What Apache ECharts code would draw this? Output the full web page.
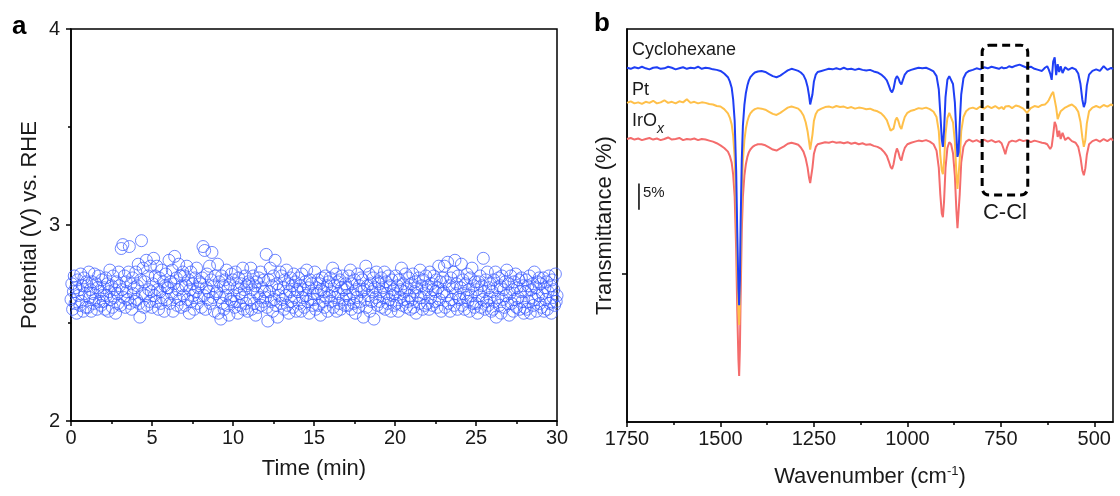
<!DOCTYPE html>
<html><head><meta charset="utf-8">
<script src="https://cdn.jsdelivr.net/npm/echarts@6/dist/echarts.min.js"></script>
<style>html,body{margin:0;padding:0;background:#fff}#c{width:1120px;height:496px}</style>
</head><body><div id="c"></div>
<script>
// ---------- Panel a: potential vs time (one sample every 0.05 min) ----------
const sampleStepMin = 0.05;
const potential = [
 2.62,2.70,2.57,2.66,2.74,2.60,2.68,2.55,2.72,2.64,2.67,2.59,2.75,2.61,2.69,2.56,2.73,2.65,2.58,2.71,
 2.69,2.58,2.76,2.63,2.67,2.56,2.71,2.65,2.60,2.75,2.62,2.70,2.57,2.68,2.74,2.61,2.66,2.59,2.72,2.64,
 2.61,2.68,2.57,2.73,2.64,2.70,2.56,2.66,2.77,2.62,2.69,2.58,2.74,2.63,2.67,2.55,2.71,2.65,2.60,2.76,
 2.69,2.59,2.88,2.67,2.90,2.63,2.74,2.58,2.71,2.66,2.62,2.76,2.89,2.60,2.70,2.57,2.73,2.65,2.68,2.61,
 2.76,2.62,2.69,2.80,2.60,2.53,2.72,2.92,2.65,2.78,2.58,2.71,2.64,2.82,2.59,2.74,2.67,2.61,2.79,2.66,
 2.58,2.70,2.83,2.64,2.74,2.61,2.79,2.67,2.57,2.73,2.66,2.60,2.77,2.63,2.71,2.56,2.69,2.75,2.62,2.68,
 2.68,2.82,2.60,2.71,2.65,2.77,2.56,2.70,2.84,2.63,2.73,2.59,2.67,2.80,2.62,2.74,2.58,2.69,2.76,2.64,
 2.74,2.59,2.69,2.79,2.62,2.72,2.55,2.67,2.76,2.61,2.70,2.64,2.57,2.73,2.66,2.78,2.60,2.68,2.63,2.71,
 2.70,2.58,2.73,2.89,2.64,2.87,2.57,2.68,2.75,2.62,2.66,2.79,2.60,2.72,2.86,2.63,2.69,2.56,2.74,2.65,
 2.66,2.80,2.55,2.71,2.63,2.52,2.74,2.60,2.69,2.57,2.72,2.64,2.77,2.59,2.68,2.54,2.70,2.62,2.75,2.61,
 2.72,2.64,2.58,2.76,2.61,2.68,2.55,2.73,2.65,2.59,2.70,2.63,2.78,2.57,2.67,2.74,2.60,2.69,2.56,2.71,
 2.70,2.62,2.78,2.57,2.67,2.74,2.60,2.69,2.54,2.71,2.65,2.58,2.73,2.63,2.76,2.59,2.68,2.61,2.72,2.66,
 2.63,2.85,2.58,2.51,2.72,2.66,2.78,2.61,2.69,2.56,2.74,2.62,2.82,2.59,2.70,2.53,2.67,2.64,2.76,2.60,
 2.74,2.62,2.68,2.57,2.72,2.64,2.77,2.59,2.70,2.55,2.66,2.73,2.61,2.69,2.58,2.75,2.63,2.71,2.56,2.67,
 2.66,2.73,2.60,2.69,2.56,2.75,2.63,2.67,2.58,2.71,2.64,2.77,2.61,2.68,2.55,2.72,2.62,2.70,2.59,2.65,
 2.62,2.76,2.57,2.68,2.65,2.72,2.59,2.70,2.54,2.67,2.73,2.61,2.66,2.58,2.74,2.63,2.69,2.56,2.71,2.64,
 2.73,2.61,2.66,2.78,2.58,2.69,2.63,2.75,2.56,2.71,2.65,2.60,2.72,2.57,2.68,2.74,2.62,2.67,2.59,2.70,
 2.64,2.68,2.59,2.74,2.62,2.77,2.57,2.70,2.65,2.60,2.72,2.55,2.67,2.63,2.75,2.58,2.69,2.61,2.73,2.66,
 2.72,2.53,2.67,2.62,2.79,2.58,2.69,2.64,2.75,2.56,2.70,2.61,2.66,2.73,2.52,2.68,2.63,2.76,2.59,2.71,
 2.70,2.61,2.66,2.73,2.58,2.68,2.63,2.76,2.57,2.71,2.65,2.60,2.74,2.62,2.69,2.56,2.72,2.64,2.67,2.59,
 2.65,2.74,2.60,2.69,2.56,2.72,2.63,2.67,2.78,2.59,2.70,2.62,2.66,2.75,2.58,2.68,2.61,2.73,2.64,2.57,
 2.70,2.62,2.75,2.58,2.66,2.71,2.55,2.68,2.64,2.73,2.60,2.77,2.63,2.69,2.57,2.72,2.65,2.59,2.74,2.67,
 2.60,2.69,2.57,2.76,2.63,2.70,2.59,2.67,2.74,2.61,2.66,2.72,2.58,2.68,2.79,2.62,2.71,2.56,2.65,2.73,
 2.66,2.79,2.58,2.71,2.64,2.81,2.60,2.69,2.56,2.73,2.62,2.68,2.76,2.59,2.82,2.65,2.70,2.57,2.74,2.63,
 2.62,2.68,2.80,2.59,2.72,2.65,2.57,2.70,2.63,2.75,2.61,2.67,2.56,2.73,2.64,2.78,2.60,2.69,2.58,2.71,
 2.60,2.67,2.55,2.71,2.64,2.74,2.58,2.69,2.62,2.83,2.66,2.57,2.72,2.61,2.76,2.59,2.68,2.63,2.70,2.56,
 2.66,2.57,2.72,2.61,2.76,2.53,2.68,2.63,2.73,2.59,2.69,2.55,2.74,2.62,2.67,2.58,2.71,2.64,2.77,2.60,
 2.70,2.54,2.65,2.74,2.60,2.67,2.56,2.71,2.62,2.75,2.58,2.68,2.63,2.72,2.57,2.66,2.73,2.61,2.69,2.55,
 2.58,2.66,2.72,2.57,2.69,2.61,2.74,2.55,2.67,2.63,2.70,2.59,2.76,2.62,2.68,2.56,2.71,2.64,2.73,2.60,
 2.70,2.58,2.65,2.73,2.56,2.68,2.62,2.71,2.57,2.66,2.74,2.60,2.69,2.55,2.72,2.63,2.67,2.59,2.75,2.61,
 2.64
];
const timeTicks = [0,5,10,15,20,25,30];
const potentialTicks = [2,3,4];

// ---------- Panel b: FTIR spectra ----------
const wavenumbers = [
 1750,1740,1730,1720,1710,1700,1690,1680,1670,1660,1650,1640,1630,1620,1610,1600,1590,1580,1570,1560,1550,1540,1530,1520,1510,
 1500,1495,1490,1485,1480,1475,1470,1466,1462,1458,1455,1452,1450,1448,1446,1443,1440,1436,1432,1428,1424,1420,1414,1408,1400,
 1390,1380,1370,1360,1350,1345,1340,1330,1320,1310,1300,
 1292,1285,1278,1272,1267,1263,1260,1257,1254,1250,1245,1240,
 1230,1220,1210,1200,1190,1180,1170,1160,1150,1140,1130,1120,1110,1100,1090,1080,1070,1062,
 1055,1050,1045,1041,1037,1032,1028,1024,1020,1016,1012,1007,1000,990,
 980,970,960,950,940,930,922,916,912,908,905,902,898,893,888,883,878,873,869,866,863,860,856,850,843,835,
 825,815,805,795,785,775,765,755,748,742,738,734,728,720,710,700,690,680,670,660,650,640,
 632,626,622,618,614,610,606,602,598,594,590,585,578,570,560,
 550,543,537,532,528,524,520,514,505,495,485,475,465,455,450
];
const cyclohexane = [
 67.6,67.4,67.7,67.5,67.8,67.5,67.3,67.6,67.7,67.4,67.5,67.8,67.6,67.3,67.5,67.7,67.4,67.6,67.5,67.8,67.4,67.6,67.5,67.3,67.2,
 67.0,66.8,66.5,66.2,65.8,65.0,63.8,61.5,57.5,48.0,36.0,25.5,22.3,27.0,38.0,50.0,56.5,60.5,62.8,64.2,65.2,65.8,66.3,66.7,66.9,
 67.0,66.8,66.4,66.0,65.8,65.9,66.1,66.6,67.1,67.4,67.2,
 67.0,66.7,66.2,65.3,64.0,62.3,60.6,60.3,62.5,65.0,66.3,66.8,
 67.0,67.2,67.4,67.3,67.5,67.3,67.6,67.3,67.4,67.2,67.4,67.2,67.1,67.2,66.9,66.7,66.3,65.8,
 65.2,64.3,63.3,62.9,63.6,65.4,66.0,65.6,64.8,64.4,65.3,66.3,66.9,67.2,
 67.4,67.6,67.5,67.6,67.3,66.9,66.0,63.5,59.0,54.0,52.5,55.5,62.0,65.3,66.0,65.8,64.5,61.0,55.0,50.6,51.5,57.0,62.5,65.6,66.6,67.0,
 67.2,67.5,67.3,67.7,67.5,67.8,67.6,67.4,67.7,67.5,67.8,67.6,67.9,67.7,68.0,68.2,67.9,67.6,67.8,67.4,67.2,67.0,
 67.6,67.9,67.3,66.5,65.3,68.8,69.6,66.2,68.3,66.8,67.9,66.6,67.7,67.2,67.6,
 67.3,66.5,64.5,61.5,60.1,61.0,64.2,66.3,67.0,67.3,67.0,67.9,67.2,67.6,67.3
];
const pt = [
 60.9,61.2,60.8,61.0,60.7,61.1,60.9,61.3,60.8,61.0,61.4,60.9,61.1,60.8,61.2,61.0,61.6,60.9,61.1,60.8,61.0,60.9,60.7,60.6,60.3,
 60.2,60.0,59.7,59.4,58.9,58.1,56.8,54.6,50.5,41.0,30.0,21.0,18.5,23.0,32.0,43.5,49.8,53.8,56.0,57.4,58.3,58.9,59.4,59.7,59.9,
 59.8,59.6,59.2,58.8,58.6,58.7,59.0,59.5,60.0,60.2,60.0,
 59.8,59.3,58.5,57.2,55.5,53.5,52.0,52.2,54.8,57.5,58.8,59.4,
 59.8,60.1,60.2,60.0,60.3,60.1,60.2,59.9,60.1,59.8,60.0,59.9,59.7,59.8,59.5,59.3,58.9,58.3,
 57.6,56.6,55.6,55.3,56.0,57.6,58.1,57.4,56.4,55.9,57.0,58.2,59.0,59.4,
 59.6,59.9,59.8,60.0,59.7,59.2,58.2,55.5,51.0,48.0,47.3,49.5,55.0,58.0,59.0,58.7,57.2,53.5,47.5,44.5,44.8,50.0,55.5,58.2,59.3,59.8,
 60.0,59.7,60.2,59.8,60.3,59.9,60.3,59.8,60.1,59.7,60.2,59.9,60.3,59.9,60.4,60.2,59.8,59.0,59.9,60.3,60.1,60.5,
 60.6,61.0,61.4,62.0,62.6,63.0,63.3,60.0,57.8,58.6,59.3,59.6,60.0,60.3,60.6,
 60.0,59.2,57.3,54.3,52.5,53.8,57.0,59.3,60.0,60.3,60.0,60.5,60.2,60.6,60.4
];
const irox = [
 54.0,54.2,53.9,54.1,53.8,54.0,54.2,53.9,54.1,53.8,54.0,54.3,53.9,54.0,54.2,53.8,54.0,53.9,54.1,53.8,54.0,53.9,53.7,53.5,53.2,
 52.8,52.6,52.3,52.0,51.6,50.8,49.5,47.2,43.0,33.0,21.0,12.0,8.8,14.0,24.0,36.5,43.0,47.0,49.2,50.6,51.5,52.0,52.5,52.8,53.0,
 53.0,52.8,52.4,52.0,51.8,51.9,52.2,52.6,53.1,53.3,53.1,
 52.9,52.4,51.6,50.3,48.6,46.6,45.6,45.9,48.5,51.2,52.5,53.0,
 53.2,53.4,53.3,53.5,53.3,53.4,53.2,53.4,53.1,53.3,53.0,53.2,52.9,53.0,52.7,52.5,52.1,51.5,
 50.8,49.8,48.7,48.3,49.2,51.2,52.2,51.5,50.4,49.9,51.2,52.3,53.0,53.3,
 53.5,53.7,53.6,53.8,53.5,53.0,51.8,48.5,43.5,39.8,39.1,42.0,48.5,52.3,53.4,53.0,51.3,47.0,40.5,37.0,37.3,43.5,49.5,52.5,53.5,53.9,
 53.5,53.8,53.4,53.9,53.5,53.8,53.4,53.6,53.2,52.0,51.1,52.3,53.4,53.7,53.5,53.9,53.6,53.8,53.4,53.7,53.5,53.3,
 53.2,53.0,52.7,52.1,52.6,54.8,57.3,56.5,54.4,55.6,54.0,55.2,53.8,54.3,53.6,
 53.3,52.5,50.5,48.0,47.1,48.4,51.0,53.0,53.6,53.9,53.5,54.0,53.6,54.1,53.7
];
const wnMajorTicks = [1750,1500,1250,1000,750,500];
const wnMinorTicks = [1625,1375,1125,875,625];
const seriesNames = ['Cyclohexane','Pt','IrOx'];
// annotation anchors in data units
const cclBox = {wnFrom: 800, wnTo: 678, tLow: 43.3, tHigh: 71.9, label: 'C-Cl'};
const scaleBar = {wn: 1718, tLow: 40.5, tHigh: 45.5, label: '5%'};

// ---------- chart ----------
const FF = '"Liberation Sans", Arial, Helvetica, sans-serif';
const BLK = '#000';
const txt = '#1a1a1a';
const times = potential.map((_, i) => Math.round(i * sampleStepMin * 100) / 100);
const scatterData = potential.map((v, i) => [times[i], v]);
const toPairs = arr => wavenumbers.map((w, i) => [w, arr[i]]);

const chart = echarts.init(document.getElementById('c'), null, {renderer: 'canvas'});
const axisLine = {show: true, onZero: false, lineStyle: {color: BLK, width: 1.5}};
const tickStyle = {color: BLK, width: 1.5};
const plain = v => String(v);

const option = {
  animation: false,
  backgroundColor: '#fff',
  textStyle: {fontFamily: FF},
  grid: [
    {left: 71, right: 563, top: 29, bottom: 75, show: true, borderColor: BLK, borderWidth: 1.5, backgroundColor: 'transparent'},
    {left: 627, right: 7, top: 29, bottom: 74, show: true, borderColor: BLK, borderWidth: 1.5, backgroundColor: 'transparent'}
  ],
  xAxis: [
    {gridIndex: 0, type: 'value', min: timeTicks[0], max: timeTicks[timeTicks.length - 1], interval: 5,
     axisLine, axisTick: {length: 5, lineStyle: tickStyle},
     minorTick: {show: true, splitNumber: 2, length: 3, lineStyle: tickStyle},
     splitLine: {show: false}, minorSplitLine: {show: false},
     axisLabel: {fontSize: 20, color: txt, margin: 7, fontFamily: FF, formatter: plain},
     name: 'Time (min)', nameLocation: 'middle', nameGap: 37,
     nameTextStyle: {fontSize: 22, color: txt, fontFamily: FF}},
    {gridIndex: 1, type: 'value', min: 450, max: 1750, inverse: true, position: 'bottom',
     axisLine, axisTick: {show: true, length: 5, lineStyle: tickStyle, customValues: wnMajorTicks},
     splitLine: {show: false},
     axisLabel: {fontSize: 20, color: txt, margin: 7, fontFamily: FF, customValues: wnMajorTicks, formatter: plain},
     name: '{t|Wavenumber (cm}{s|-1}{t|)}', nameLocation: 'middle', nameGap: 43,
     nameTextStyle: {color: txt, fontFamily: FF, rich: {
       t: {fontSize: 22, color: txt, fontFamily: FF, lineHeight: 24},
       s: {fontSize: 13, color: txt, fontFamily: FF, verticalAlign: 'top', lineHeight: 24}}}},
    {gridIndex: 1, type: 'value', min: 450, max: 1750, inverse: true, position: 'bottom', offset: 0,
     axisLine: {show: false}, axisTick: {show: true, length: 3, lineStyle: tickStyle, customValues: wnMinorTicks},
     axisLabel: {show: false}, splitLine: {show: false}}
  ],
  yAxis: [
    {gridIndex: 0, type: 'value', min: potentialTicks[0], max: potentialTicks[potentialTicks.length - 1], interval: 1,
     axisLine, axisTick: {length: 5, lineStyle: tickStyle},
     minorTick: {show: true, splitNumber: 2, length: 3, lineStyle: tickStyle},
     splitLine: {show: false}, minorSplitLine: {show: false},
     axisLabel: {fontSize: 20, color: txt, margin: 11, fontFamily: FF, formatter: plain},
     name: 'Potential (V) vs. RHE', nameLocation: 'middle', nameGap: 30,
     nameTextStyle: {fontSize: 22, color: txt, fontFamily: FF}},
    {gridIndex: 1, type: 'value', min: 0, max: 75,
     axisLine, axisTick: {show: true, length: 5, lineStyle: tickStyle, customValues: [28.2]},
     splitLine: {show: false}, axisLabel: {show: false},
     name: 'Transmittance (%)', nameLocation: 'middle', nameGap: 11,
     nameTextStyle: {fontSize: 22, color: txt, fontFamily: FF}}
  ],
  series: [
    {type: 'scatter', xAxisIndex: 0, yAxisIndex: 0, data: scatterData, symbol: 'circle', symbolSize: 12,
     itemStyle: {color: 'rgba(0,0,0,0)', borderColor: '#3556ff', borderWidth: 0.9},
     silent: true, emphasis: {disabled: true}},
    {name: seriesNames[2], type: 'line', xAxisIndex: 1, yAxisIndex: 1, data: toPairs(irox), showSymbol: false,
     lineStyle: {color: '#f46c6c', width: 2}, silent: true, z: 2},
    {name: seriesNames[1], type: 'line', xAxisIndex: 1, yAxisIndex: 1, data: toPairs(pt), showSymbol: false,
     lineStyle: {color: '#ffc04a', width: 2}, silent: true, z: 3},
    {name: seriesNames[0], type: 'line', xAxisIndex: 1, yAxisIndex: 1, data: toPairs(cyclohexane), showSymbol: false,
     lineStyle: {color: '#1f3ff5', width: 2}, silent: true, z: 4},
    {type: 'custom', xAxisIndex: 1, yAxisIndex: 1, data: [[0]], silent: true, z: 5,
     renderItem: function (params, api) {
       const p1 = api.coord([cclBox.wnFrom, cclBox.tHigh]);
       const p2 = api.coord([cclBox.wnTo, cclBox.tLow]);
       const s1 = api.coord([scaleBar.wn, scaleBar.tHigh]);
       const s2 = api.coord([scaleBar.wn, scaleBar.tLow]);
       return {type: 'group', children: [
         {type: 'rect', shape: {x: p1[0], y: p1[1], width: p2[0] - p1[0], height: p2[1] - p1[1], r: 7},
          style: {fill: 'none', stroke: BLK, lineWidth: 3, lineDash: [8, 5]}},
         {type: 'text', x: (p1[0] + p2[0]) / 2, y: p2[1] + 7,
          style: {text: cclBox.label, fill: txt, font: '22px ' + FF, align: 'center', verticalAlign: 'top'}},
         {type: 'line', shape: {x1: s1[0], y1: s1[1], x2: s2[0], y2: s2[1]}, style: {stroke: BLK, lineWidth: 1.5}},
         {type: 'text', x: s1[0] + 4, y: s1[1] + 9,
          style: {text: scaleBar.label, fill: txt, font: '15px ' + FF, align: 'left', verticalAlign: 'middle'}}
       ]};
     }}
  ],
  graphic: [
    {type: 'text', left: 12, top: 14, style: {text: 'a', font: 'bold 26px ' + FF, fill: BLK}},
    {type: 'text', left: 594, top: 11, style: {text: 'b', font: 'bold 26px ' + FF, fill: BLK}},
    {type: 'text', x: 632, y: 50, style: {text: seriesNames[0], font: '18px ' + FF, fill: txt, verticalAlign: 'middle'}},
    {type: 'text', x: 632, y: 90, style: {text: seriesNames[1], font: '18px ' + FF, fill: txt, verticalAlign: 'middle'}},
    {type: 'text', x: 632, y: 121, style: {text: 'IrO', font: '18px ' + FF, fill: txt, verticalAlign: 'middle'}},
    {type: 'text', x: 657, y: 129, style: {text: 'x', font: 'italic 14px ' + FF, fill: txt, verticalAlign: 'middle'}}
  ]
};
chart.setOption(option);
</script>
</body></html>
